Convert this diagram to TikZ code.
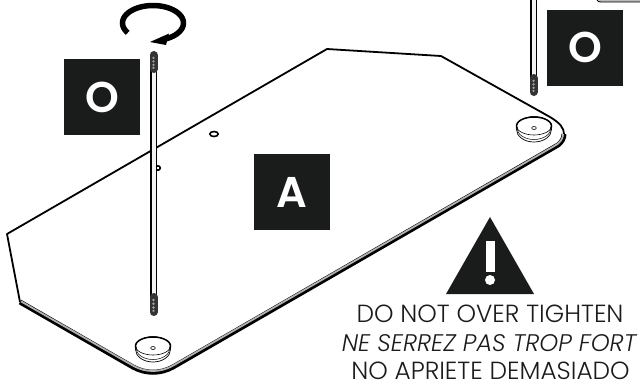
\documentclass[tikz,border=0pt]{standalone}
\usepackage{fontspec}
\setmainfont{Poppins}[UprightFont={* Light},ItalicFont={* Light Italic},BoldFont={* SemiBold}]
\definecolor{ink}{HTML}{1A1C1B}
\tikzset{
  plate/.style={line width=1.8pt,black,line join=round},
  badge/.style={fill=ink,draw=none},
  badgetext/.style={text=white,font=\bfseries\fontsize{43}{44}\selectfont,inner sep=0pt,anchor=base},
  warnline/.style={text=ink,inner sep=0pt,anchor=base,font=\fontsize{24.8}{25}\selectfont},
}
\newcommand{\footpad}[2]{%
  \draw[line width=.7pt,fill=white] (#1,#2+1.5) ellipse[x radius=17.5pt,y radius=12.5pt];
  \draw[line width=.5pt,fill=white] (#1,#2) ellipse[x radius=17pt,y radius=11.5pt];
  \draw[line width=.6pt,fill=white] (#1,#2-2) ellipse[x radius=17.5pt,y radius=9pt];
  \draw[line width=1.5pt,line cap=round] plot[smooth,samples=30,domain=165:375]
    ({#1+17.5*cos(\x)},{#2-2+9*sin(\x)});
  \draw[line width=.6pt,fill=white] (#1,#2) ellipse[x radius=2.3pt,y radius=1.5pt];
}
\newcommand{\threadrod}[3]{%
  \draw[line width=7.4pt,black] (#1,#2) -- (#1,#3);
  \draw[line width=4pt,gray!10] (#1,#2) -- (#1,#3);
}
\newcommand{\threadend}[3]{% x, from, tip
  \draw[line width=8pt,black!80,line cap=round] (#1,#2) -- (#1,#3);
  \foreach \f in {.2,.45,.7,.92}
    \fill[gray!75] (#1,{#2+\f*(#3-#2)}) circle[radius=1.3pt];
}
\begin{document}
\begin{tikzpicture}[x=1pt,y=-1pt]
\useasboundingbox (0,0) rectangle (640,384);
% plate
\draw[plate] (20,302) -- (7,234) -- (327,49) -- (441,56) -- (550,117)
  .. controls (560,123) and (564,128) .. (564,134);
\draw[line width=5pt,black,line join=round]
  (20,302) -- (133,367) .. controls (146,374) and (160,374) .. (173,367)
  -- (558,145) .. controls (562,142) and (564,138) .. (564,134);
\draw[line width=1.8pt,gray!60,line join=round]
  (21,301.4) -- (134,366.2) .. controls (146,372.6) and (160,372.6) .. (172,366.2)
  -- (557,144.4) .. controls (561,141.4) and (563,138) .. (563,134);
% holes
\draw[line width=1.6pt,fill=white] (214,134) ellipse[x radius=4.2pt,y radius=2.5pt];
\draw[line width=1.6pt,fill=white] (158,168) ellipse[x radius=2.2pt,y radius=2.2pt];
% feet
\footpad{153}{348}
\footpad{534}{128}
% rods
\threadrod{153.5}{60}{306}
\threadend{153.5}{55}{69}
\threadend{153.5}{297}{312}
\threadrod{533.5}{-2}{85}
\threadend{533.5}{78}{92}
% rotation arrow
\draw[line width=5.5pt,black] plot[smooth,samples=50,domain=146:425]
  ({153+30.5*cos(\x)},{23+17.5*sin(\x)});
\fill[black] (150,42) -- (169,33.5) -- (166,45) -- cycle;
% top right fragment
\fill[gray!55] (597,-1) -- (640,-1) -- (640,2) -- (601,2) -- cycle;
\draw[line width=.9pt,black] (597,0) .. controls (598,1.5) and (599,2) .. (601,2) -- (641,2);
% badges
\fill[badge] (64,59) rectangle (140,135);
\fill[badge] (547,10) rectangle (623,86);
\fill[badge] (254,154) rectangle (330,230);
\node[badgetext] (labO1) at (102,112.5) {O};
\node[badgetext] (labO2) at (585,62.5) {O};
\node[badgetext] (labA) at (292,207) {A};
% warning sign
\fill[ink] (490,217) -- (534,294) -- (446,294) -- cycle;
\fill[white] (485.7,241) rectangle (495,272);
\fill[white] (490,280) circle[radius=5pt];
\node[warnline] (w1) at (490,322.7) {DO NOT OVER TIGHTEN};
\node[warnline,font=\fontsize{24}{25}\selectfont\itshape] (w2) at (489,351.7) {NE SERREZ PAS TROP FORT};
\node[warnline] (w3) at (490.5,379.5) {NO APRIETE DEMASIADO};
\end{tikzpicture}
\end{document}
